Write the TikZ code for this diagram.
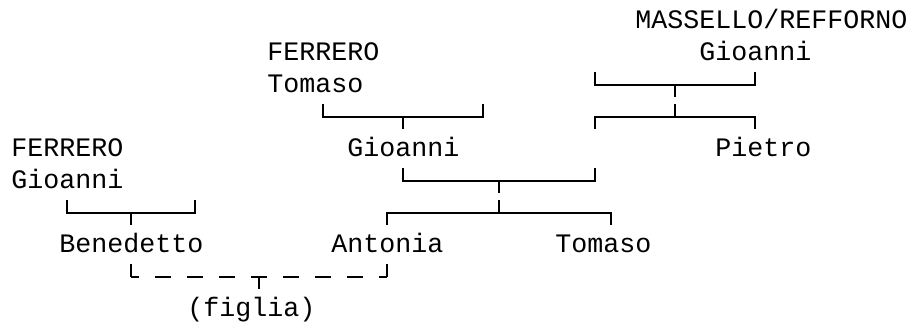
\documentclass[tikz,border=0pt]{standalone}
\usepackage{fontspec}
\setmonofont{Liberation Mono}
\begin{document}
\begin{tikzpicture}[
                x=8pt, y=-16pt,
                nome/.style={anchor=base west, inner sep=0pt, font=\ttfamily\fontsize{13.33}{16}\selectfont},
                linea/.style={line width=1pt},
                tratteggio/.style={linea, dash pattern=on 8pt off 8pt, dash phase=4pt},
            ]
            \useasboundingbox (-0.6875,-0.875) rectangle (56.0625,9.156);

            \node[nome] (mr) at (39, 0) {MASSELLO/REFFORNO};
            \node[nome] (mg) at (43, 1) {Gioanni};
            \node[nome] (ft) at (16, 1) {FERRERO};
            \node[nome] (tt) at (16, 2) {Tomaso};
            \node[nome] (fg) at (0, 4) {FERRERO};
            \node[nome] (gm) at (21, 4) {Gioanni};
            \node[nome] (pm) at (44, 4) {Pietro};
            \node[nome] (gg) at (0, 5) {Gioanni};
            \node[nome] (bf) at (3, 7) {Benedetto};
            \node[nome] (af) at (20, 7) {Antonia};
            \node[nome] (tf) at (34, 7) {Tomaso};
            \node[nome] (fi) at (11, 9) {(figlia)};

            \coordinate (A1) at (3.5, 5.36);
            \coordinate (A) at (7.5, 5.77);
            \coordinate (A2) at (11.5, 5.36);
            \coordinate (A3) at (7.5, 6.17);

            \coordinate (B1) at (19.5, 2.36);
            \coordinate (B) at (24.5, 2.77);
            \coordinate (B2) at (29.5, 2.36);
            \coordinate (B3) at (24.5, 3.17);

            \coordinate (C1) at (36.5, 1.36);
            \coordinate (C) at (41.5, 1.77);
            \coordinate (C2) at (46.5, 1.36);
            \coordinate (C3) at (41.5, 2.17);

            \coordinate (D1) at (36.5, 3.17);
            \coordinate (D) at (41.5, 2.77);
            \coordinate (D2) at (46.5, 3.17);
            \coordinate (D3) at (41.5, 2.36);

            \coordinate (E1) at (24.5, 4.36);
            \coordinate (E) at (30.5, 4.77);
            \coordinate (E2) at (36.5, 4.36);
            \coordinate (E3) at (30.5, 5.17);

            \coordinate (F1) at (23.5, 6.17);
            \coordinate (F) at (30.5, 5.77);
            \coordinate (F2) at (37.5, 6.17);
            \coordinate (F3) at (30.5, 5.36);

            \coordinate (G1) at (7.5, 7.36);
            \coordinate (G) at (15.5, 7.77);
            \coordinate (G2) at (23.5, 7.36);
            \coordinate (G3) at (15.5, 8.17);

            \draw[linea] (A1) |- (A) -| (A2);
            \draw[linea] (A) -- (A3);
            \draw[linea] (B1) |- (B) -| (B2);
            \draw[linea] (B) -- (B3);
            \draw[linea] (C1) |- (C) -| (C2);
            \draw[linea] (C) -- (C3);
            \draw[linea] (D1) |- (D) -| (D2);
            \draw[linea] (D) -- (D3);
            \draw[linea] (E1) |- (E) -| (E2);
            \draw[linea] (E) -- (E3);
            \draw[linea] (F1) |- (F) -| (F2);
            \draw[linea] (F) -- (F3);
            \draw[linea] (G1) -- (G1 |- G);
            \draw[linea] (G2) -- (G2 |- G);
            \draw[tratteggio] (G1 |- G) -- (G2 |- G);
            \draw[linea] (G) -- (G3);
        \end{tikzpicture}
\end{document}
